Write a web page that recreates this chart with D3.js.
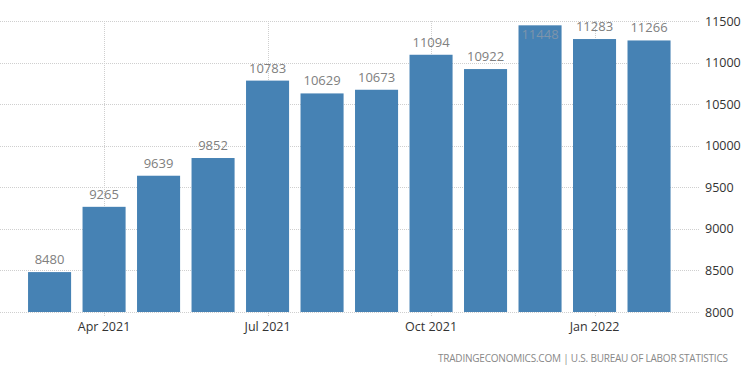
<!DOCTYPE html>
<html lang="en">
<head>
<meta charset="utf-8">
<title>Job openings</title>
<script src="https://d3js.org/d3.v7.min.js"></script>
<style>
  body { margin: 0; background: #fff; }
  svg { display: block; font-family: "Open Sans", "Liberation Sans", Arial, sans-serif; }
</style>
</head>
<body>
<svg width="750" height="375"></svg>
<script>
const months = ["Mar 2021", "Apr 2021", "May 2021", "Jun 2021", "Jul 2021", "Aug 2021",
  "Sep 2021", "Oct 2021", "Nov 2021", "Dec 2021", "Jan 2022", "Feb 2022"];
const values = [8480, 9265, 9639, 9852, 10783, 10629, 10673, 11094, 10922, 11448, 11283, 11266];
const yTicks = [8000, 8500, 9000, 9500, 10000, 10500, 11000, 11500];
const xTicks = ["Apr 2021", "Jul 2021", "Oct 2021", "Jan 2022"];
const source = "TRADINGECONOMICS.COM | U.S. BUREAU OF LABOR STATISTICS";

const svg = d3.select("svg");
const plotRight = 700;

const x = d3.scaleBand()
  .domain(months)
  .range([16.6, 682])
  .padding(0.21);

const y = d3.scaleLinear()
  .domain([8000, 11500])
  .range([312, 21]);

// grid lines
svg.append("g")
  .selectAll("line")
  .data(yTicks)
  .join("line")
  .attr("x1", 0)
  .attr("x2", plotRight)
  .attr("y1", d => Math.round(y(d)) + 0.5)
  .attr("y2", d => Math.round(y(d)) + 0.5)
  .attr("stroke", "#cfcfcf")
  .attr("stroke-dasharray", "1,1");

svg.append("g")
  .selectAll("line")
  .data(xTicks)
  .join("line")
  .attr("x1", d => Math.round(x(d) + x.bandwidth() / 2) + 0.5)
  .attr("x2", d => Math.round(x(d) + x.bandwidth() / 2) + 0.5)
  .attr("y1", y(11500))
  .attr("y2", y(8000) + 5)
  .attr("stroke", "#cfcfcf")
  .attr("stroke-dasharray", "1,1");

// bars
svg.append("g")
  .attr("fill", "#4682b4")
  .selectAll("rect")
  .data(values)
  .join("rect")
  .attr("x", (d, i) => x(months[i]))
  .attr("y", d => y(d))
  .attr("width", x.bandwidth())
  .attr("height", d => y(8000) - y(d));

// value labels
svg.append("g")
  .attr("font-size", "13px")
  .attr("text-anchor", "middle")
  .selectAll("text")
  .data(values)
  .join("text")
  .attr("x", (d, i) => x(months[i]) + x.bandwidth() / 2)
  .attr("y", d => y(d) - 8 < 28 ? y(d) + 14 : y(d) - 8)
  .attr("fill", d => y(d) - 8 < 28 ? "#7d94ab" : "#808080")
  .text(d => d);

// right axis
const yAxis = d3.axisRight(y).tickValues(yTicks).tickFormat(d3.format("d"))
  .tickSize(0).tickPadding(0);
svg.append("g")
  .attr("transform", `translate(705,0)`)
  .call(yAxis)
  .call(g => g.select(".domain").remove())
  .call(g => g.selectAll("text")
    .attr("font-size", "12.5px")
    .attr("fill", "#333")
    .attr("font-family", "\"Open Sans\", \"Liberation Sans\", Arial, sans-serif"));

// bottom axis
const xAxis = d3.axisBottom(x).tickValues(xTicks).tickSize(0).tickPadding(10);
svg.append("g")
  .attr("transform", `translate(0,${y(8000)})`)
  .call(xAxis)
  .call(g => g.select(".domain").remove())
  .call(g => g.selectAll("text")
    .attr("font-size", "12.5px")
    .attr("fill", "#333")
    .attr("font-family", "\"Open Sans\", \"Liberation Sans\", Arial, sans-serif"));

// source
svg.append("text")
  .attr("x", 438)
  .attr("y", 362)
  .attr("font-size", "10px")
  .attr("fill", "#888")
  .attr("textLength", 290)
  .attr("lengthAdjust", "spacing")
  .text(source);
</script>
</body>
</html>
